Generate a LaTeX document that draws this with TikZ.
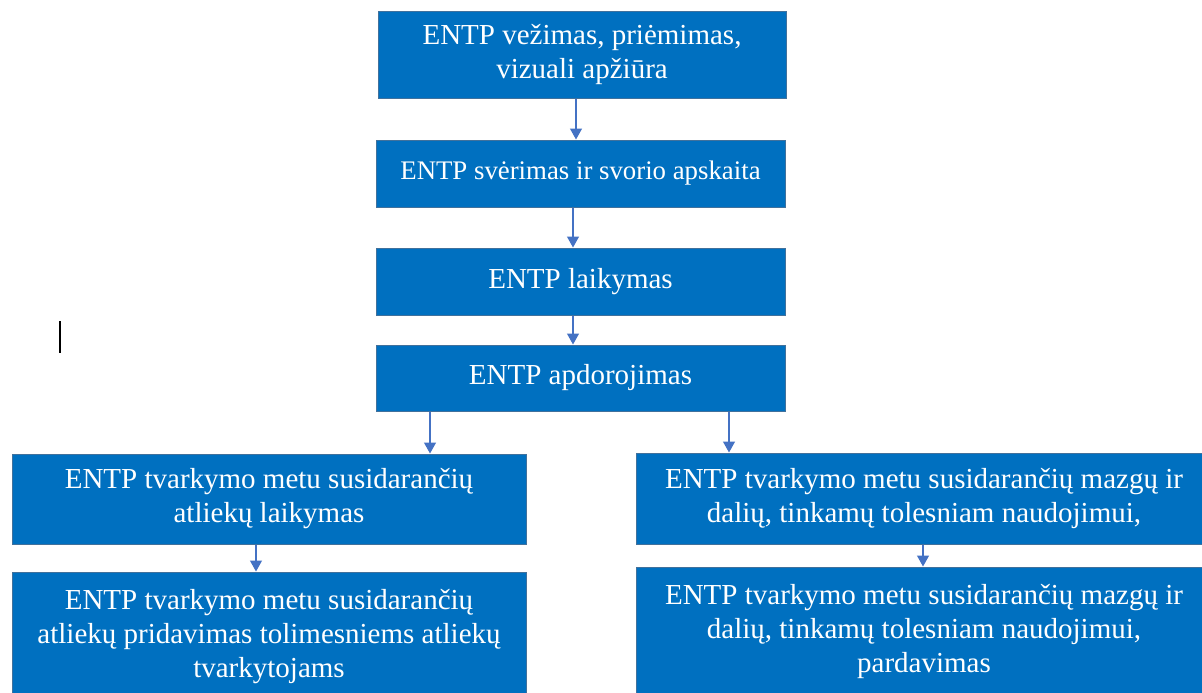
\documentclass[tikz,border=0pt]{standalone}
\usepackage{fontspec}
\setmainfont{Liberation Serif}
\usetikzlibrary{arrows.meta}
\definecolor{boxblue}{HTML}{0070C0}
\definecolor{boxline}{HTML}{41719C}
\definecolor{arrblue}{HTML}{4472C4}
\begin{document}
\begin{tikzpicture}[x=0.5pt,y=-0.5pt,
  flowbox/.style={rectangle,fill=boxblue,draw=boxline,line width=0.5pt,inner sep=0pt,
    text=white,align=center,font=\fontsize{14.5pt}{17pt}\selectfont},
  arr/.style={draw=arrblue,line width=0.6pt,-{Triangle[width=6pt,length=5.5pt]}}]
\useasboundingbox (0,0) rectangle (1202,692);
\begin{scope}
\clip (0,0) rectangle (1202,692);
\node[flowbox,minimum width=204pt,minimum height=43.5pt] (b1) at (582,54.5) {ENTP vežimas, priėmimas,\\vizuali apžiūra};
\node[flowbox,minimum width=204.5pt,minimum height=33.5pt,font=\fontsize{13.4pt}{16pt}\selectfont] (b2) at (580.5,173.5) {ENTP svėrimas ir svorio apskaita};
\node[flowbox,minimum width=204.5pt,minimum height=33.5pt] (b3) at (580.5,281.5) {ENTP laikymas};
\node[flowbox,minimum width=204.5pt,minimum height=33pt] (b4) at (580.5,378) {ENTP apdorojimas};
\node[flowbox,minimum width=257pt,minimum height=45pt] (l5) at (269,499) {ENTP tvarkymo metu susidarančių\\atliekų laikymas};
\node[flowbox,minimum width=257pt,minimum height=65pt] (l6) at (269,637) {ENTP tvarkymo metu susidarančių\\atliekų pridavimas tolimesniems atliekų\\tvarkytojams};
\node[flowbox,minimum width=288pt,minimum height=45.5pt] (r5) at (924,498.5) {ENTP tvarkymo metu susidarančių mazgų ir\\dalių, tinkamų tolesniam naudojimui,};
\node[flowbox,minimum width=288pt,minimum height=64pt] (r6) at (924,631) {ENTP tvarkymo metu susidarančių mazgų ir\\dalių, tinkamų tolesniam naudojimui,\\pardavimas};
\end{scope}
\draw[arr] ([xshift=-2.25pt]b2.north |- b1.south) -- ([xshift=-2.25pt]b2.north);
\draw[arr] ([xshift=-3.75pt]b2.south) -- ([xshift=-3.75pt]b3.north);
\draw[arr] ([xshift=-3.75pt]b3.south) -- ([xshift=-3.75pt]b4.north);
\draw[arr] ([xshift=-75.25pt]b4.south) -- ([xshift=-75.25pt]b4.south |- l5.north);
\draw[arr] ([xshift=74.25pt]b4.south) -- ([xshift=74.25pt]b4.south |- r5.north);
\draw[arr] ([xshift=-6.5pt]l5.south) -- ([xshift=-6.5pt]l5.south |- l6.north);
\draw[arr] ([xshift=-0.5pt]r5.south) -- ([xshift=-0.5pt]r5.south |- r6.north);
\coordinate (c1) at (60,321);
\coordinate (c2) at (60,353);
\draw[black,line width=1pt] (c1) -- (c2);
\end{tikzpicture}
\end{document}
